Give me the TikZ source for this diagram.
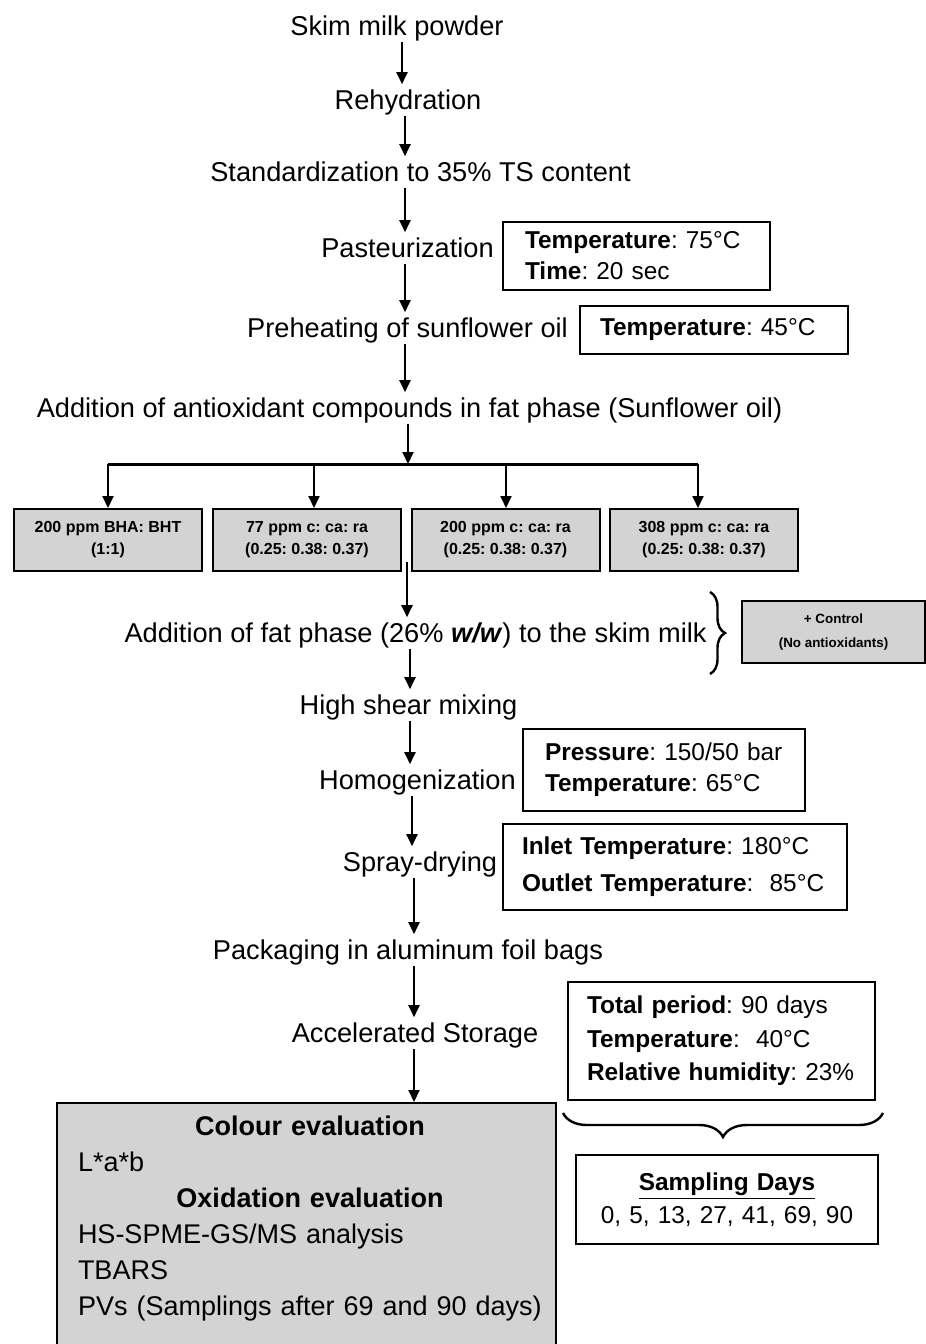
\documentclass[tikz,border=0pt]{standalone}
\usepackage{fontspec}
\setmainfont{Liberation Sans}
\usetikzlibrary{arrows.meta,decorations.pathreplacing}
\definecolor{boxgray}{HTML}{D3D3D3}
\newcommand\mfont{\frenchspacing\fontsize{13.6pt}{16pt}\selectfont}
\newcommand\pfontA{\frenchspacing\fontsize{12.2pt}{15.5pt}\selectfont}
\newcommand\pfontB{\frenchspacing\fontsize{12.2pt}{18.5pt}\selectfont}
\newcommand\pfontC{\frenchspacing\fontsize{12.2pt}{16.75pt}\selectfont}
\newcommand\pfontD{\frenchspacing\fontsize{12.2pt}{16.5pt}\selectfont}
\newcommand\sfontA{\frenchspacing\fontsize{8pt}{11pt}\selectfont}
\newcommand\cfontA{\frenchspacing\fontsize{6.7pt}{12pt}\selectfont}
\newcommand\efontA{\frenchspacing\fontsize{13.5pt}{18pt}\selectfont}
\begin{document}
\frenchspacing
\begin{tikzpicture}[x=0.5pt,y=-0.5pt,
  stage/.style={font=\mfont, inner xsep=1pt, inner ysep=2.8pt, text height=9.8pt, text depth=0pt},
  arr/.style={line width=1pt, -{Triangle[length=6pt,width=5.5pt]}},
  param/.style={draw, line width=1pt, align=left, inner ysep=0pt},
  antibox/.style={draw, fill=boxgray, line width=1pt, align=center, font=\sfontA\bfseries,
    minimum width=94pt, minimum height=31pt, inner sep=1pt},
  bracepath/.style={decorate, line width=1.2pt}]
\useasboundingbox (0,0) rectangle (926,1344);

% main flow
\node[stage] (skim) at (397,26) {Skim milk powder};
\node[stage] (rehyd) at (408,100) {Rehydration};
\node[stage] (std) at (420.5,172) {Standardization to 35\% TS content};
\node[stage] (past) at (407.5,248) {Pasteurization};
\node[stage] (preheat) at (407.5,328) {Preheating of sunflower oil};
\node[stage] (addanti) at (409.5,408) {Addition of antioxidant compounds in fat phase (Sunflower oil)};
\node[stage] (addfat) at (415.5,633) {Addition of fat phase (26\% \textbf{\textit{w/w}}) to the skim milk};
\node[stage] (mix) at (408.5,705) {High shear mixing};
\node[stage] (homog) at (417.5,780) {Homogenization};
\node[stage] (spray) at (420,862) {Spray-drying};
\node[stage] (pack) at (408,950) {Packaging in aluminum foil bags};
\node[stage] (storage) at (415,1033) {Accelerated Storage};

% parameter boxes
\node[param, font=\pfontA, minimum width=133.5pt, minimum height=34pt, inner xsep=11pt, text width=111.5pt]
  (pastp) at (636.5,256) {\textbf{Temperature}: 75°C\\\textbf{Time}: 20 sec};
\node[param, font=\pfontA, minimum width=134pt, minimum height=24pt, inner xsep=10pt, text width=114pt]
  (prep) at (714,330) {\textbf{Temperature}: 45°C};
\node[param, font=\pfontA, minimum width=141pt, minimum height=41pt, inner xsep=11pt, text width=119pt]
  (homp) at (664,770) {\textbf{Pressure}: 150/50 bar\\\textbf{Temperature}: 65°C};
\node[param, font=\pfontB, minimum width=172pt, minimum height=43pt, inner xsep=9.5pt, text width=153pt]
  (sprayp) at (675,867) {\textbf{Inlet Temperature}: 180°C\\\textbf{Outlet Temperature}:\ \ 85°C};
\node[param, font=\pfontC, minimum width=153.5pt, minimum height=59pt, inner xsep=9.5pt, text width=134.5pt]
  (storp) at (721.5,1041) {\textbf{Total period}: 90 days\\\textbf{Temperature}:\ \ 40°C\\\textbf{Relative humidity}: 23\%};
\node[param, align=center, font=\pfontD, minimum width=151pt, minimum height=44.5pt, inner xsep=5pt, text width=141pt]
  (samp) at (727,1199.5) {\underline{\textbf{Sampling Days}}\\0, 5, 13, 27, 41, 69, 90};

% antioxidant boxes
\node[antibox] (b1) at (108,540) {200 ppm BHA: BHT\\(1:1)};
\node[antibox] (b2) at (307,540) {77 ppm c: ca: ra\\(0.25: 0.38: 0.37)};
\node[antibox] (b3) at (505.5,540) {200 ppm c: ca: ra\\(0.25: 0.38: 0.37)};
\node[antibox] (b4) at (704,540) {308 ppm c: ca: ra\\(0.25: 0.38: 0.37)};
\node[antibox, font=\cfontA\bfseries, minimum width=91.5pt] (ctrl) at (833.5,632) {+ Control\\(No antioxidants)};

% evaluation box
\node[draw, fill=boxgray, line width=1pt, minimum width=249.5pt, minimum height=125pt, inner sep=0pt]
  (evalbox) at (306.5,1228) {};
\node[anchor=north, inner sep=0pt, text width=232pt, align=left, font=\efontA] (evaltext) at (310,1116)
  {\hfill\textbf{Colour evaluation}\hfill\null\\
   L*a*b\\
   \hfill\textbf{Oxidation evaluation}\hfill\null\\
   HS-SPME-GS/MS analysis\\
   TBARS\\
   PVs (Samplings after 69 and 90 days)};

% connectors
\draw[arr] (skim.south -| 402,0) -- (rehyd.north -| 402,0);
\draw[arr] (rehyd.south -| 405,0) -- (std.north -| 405,0);
\draw[arr] (std.south -| 405,0) -- (past.north -| 405,0);
\draw[arr] (past.south -| 405,0) -- (preheat.north -| 405,0);
\draw[arr] (preheat.south -| 405,0) -- (addanti.north -| 405,0);

\coordinate (bar) at (408,464);
\coordinate (barL) at (108,464);
\coordinate (t2) at (314,464);
\coordinate (t3) at (506,464);
\coordinate (barR) at (698,464);
\draw[arr] (addanti.south -| bar) -- (bar);
\draw[line width=1.5pt] (barL) -- (barR);
\draw[arr] (barL) -- (barL |- b1.north);
\draw[arr] (t2) -- (t2 |- b2.north);
\draw[arr] (t3) -- (t3 |- b3.north);
\draw[arr] (barR) -- (barR |- b4.north);

\coordinate (gap) at (407,562);
\draw[arr] (gap) -- (addfat.north -| gap);
\draw[arr] (addfat.south -| 410,0) -- (mix.north -| 410,0);
\draw[arr] (mix.south -| 410,0) -- (homog.north -| 410,0);
\draw[arr] (homog.south -| 412,0) -- (spray.north -| 412,0);
\draw[arr] (spray.south -| 414,0) -- (pack.north -| 414,0);
\draw[arr] (pack.south -| 414,0) -- (storage.north -| 414,0);
\draw[arr] (storage.south -| 414,0) -- (evalbox.north -| 414,0);

% braces
\coordinate (brT) at (710,592);
\coordinate (brB) at (710,674);
\draw[bracepath, decoration={brace, amplitude=7.5pt}] (brT) -- (brB);
\coordinate (sbR) at (883,1113);
\coordinate (sbL) at (563,1113);
\draw[bracepath, decoration={brace, amplitude=12pt}] (sbR) -- (sbL);
\end{tikzpicture}
\end{document}
